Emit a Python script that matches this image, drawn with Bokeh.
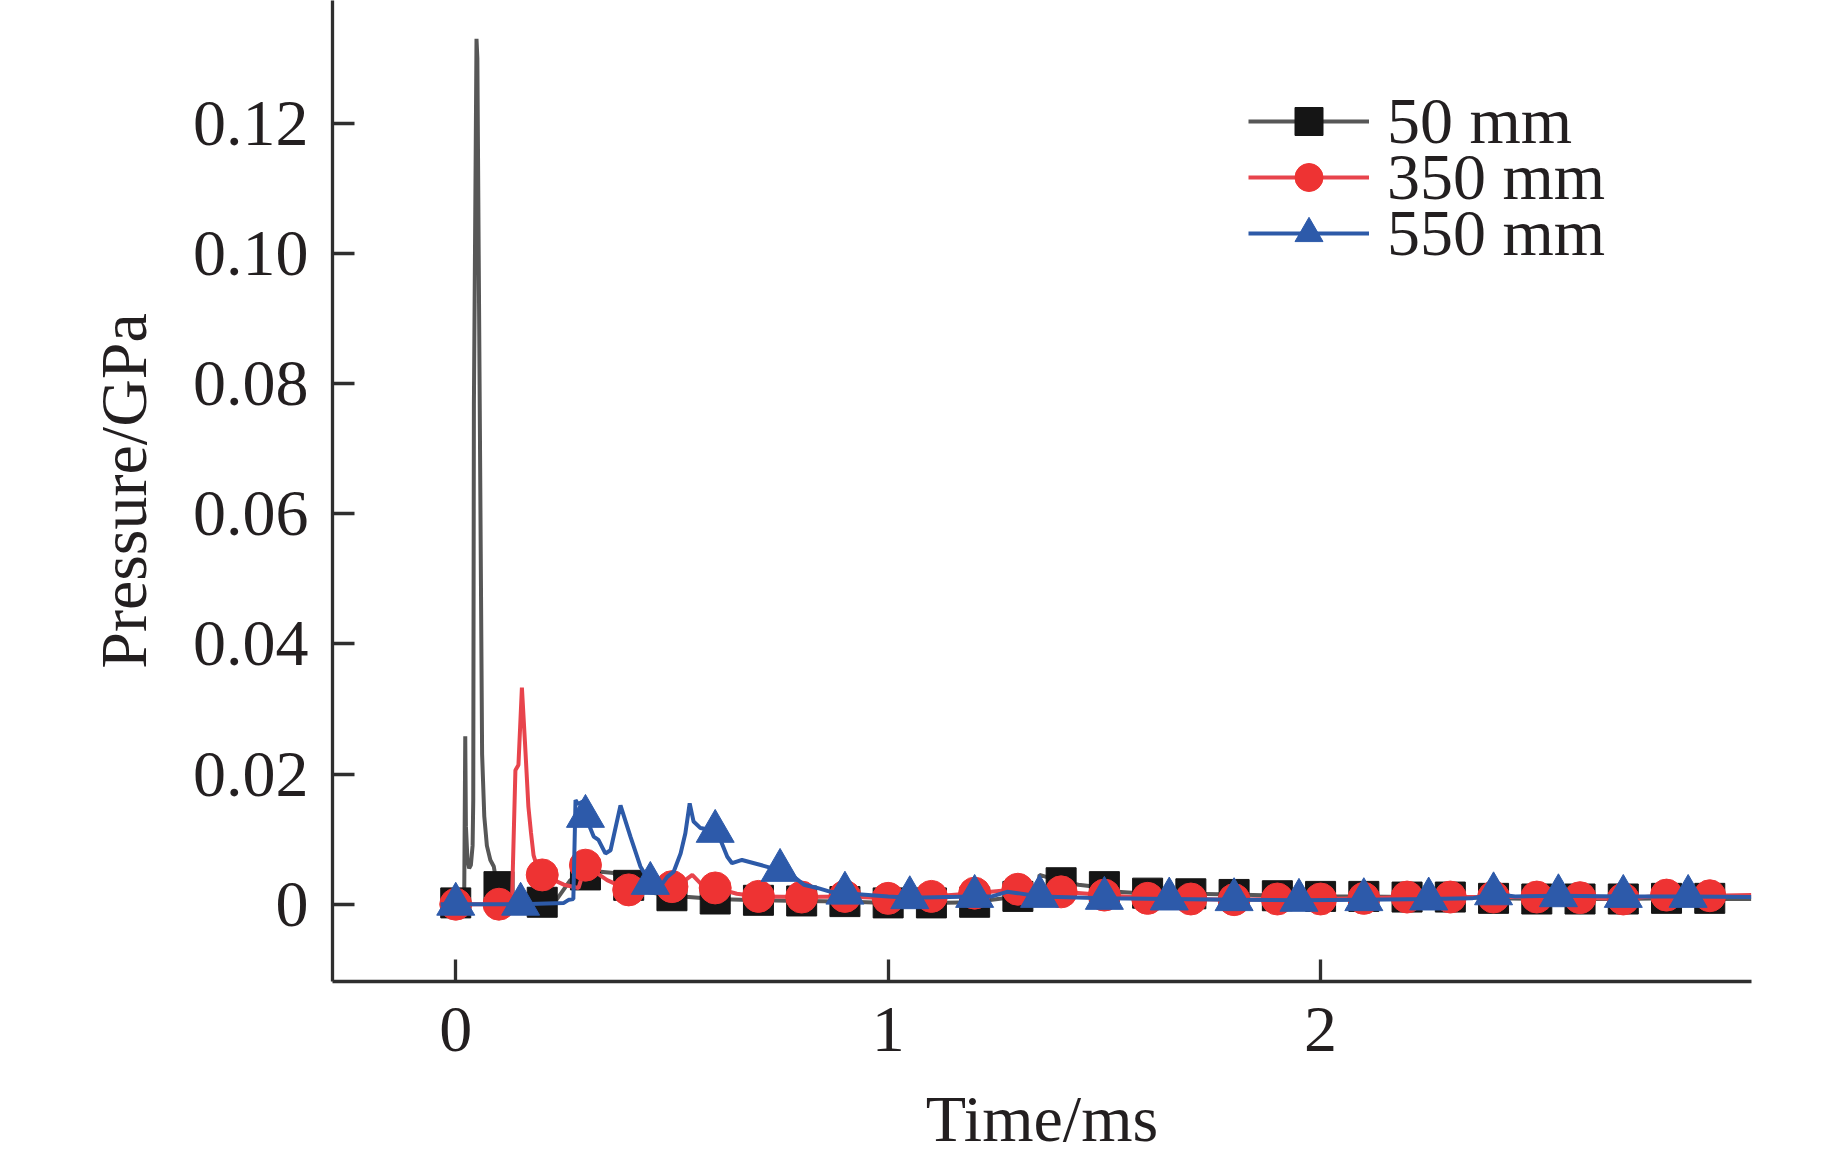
from bokeh.plotting import figure
from bokeh.models import Range1d, FixedTicker, CustomJSTickFormatter, Legend, LegendItem
from bokeh.embed import file_html
from bokeh.resources import INLINE

# ---- data: 50 mm (line) ----
t50 = [-0.035, 0.0, 0.0195, 0.022, 0.0235, 0.027, 0.031, 0.035, 0.039, 0.0405, 0.042, 0.048, 0.050,
       0.061, 0.066, 0.072, 0.080, 0.088, 0.092, 0.1, 0.115, 0.13, 0.2, 0.23, 0.265, 0.3, 0.335, 0.365,
       0.39, 0.44, 0.5, 0.6, 0.7, 0.8, 0.9, 1.0, 1.1, 1.2, 1.24, 1.3, 1.345, 1.35, 1.4, 1.44, 1.48, 1.53,
       1.6, 1.7, 1.8, 1.9, 2.0, 2.1, 2.2, 2.3, 2.4, 2.5, 2.6, 2.7, 2.8, 2.9, 2.996]
p50 = [0, 0, 0.0002, 0.0258, 0.012, 0.007, 0.0055, 0.006, 0.009, 0.016, 0.077, 0.133, 0.13,
       0.023, 0.0135, 0.009, 0.0068, 0.0058, 0.0042, 0.0027, 0.0012, 0.0005, 0.0003, 0.0004, 0.0037, 0.0045, 0.005, 0.0048,
       0.0032, 0.0019, 0.0013, 0.0008, 0.0006, 0.0005, 0.0004, 0.0002, 0.0002, 0.0003, 0.0007, 0.0012, 0.0013, 0.0045, 0.0035, 0.003, 0.0027, 0.0019,
       0.0016, 0.0016, 0.0015, 0.0013, 0.0012, 0.0012, 0.0011, 0.0011, 0.0009, 0.0008, 0.0008, 0.0008, 0.0009, 0.0008, 0.0008]
# 50 mm markers
m50_t = [0.0, 0.1, 0.2, 0.3, 0.4, 0.5, 0.6, 0.7, 0.8, 0.9, 1.0, 1.1, 1.2, 1.3, 1.4,
         1.5, 1.6, 1.7, 1.8, 1.9, 2.0, 2.1, 2.2, 2.3, 2.4, 2.5, 2.6, 2.7, 2.8, 2.9]
m50_p = [0.0002, 0.0027, 0.0003, 0.0045, 0.0029, 0.0013, 0.0008, 0.0006, 0.0005, 0.0004, 0.0002, 0.0002, 0.0003, 0.0012, 0.0033,
         0.0027, 0.0017, 0.0016, 0.0015, 0.0013, 0.0012, 0.0012, 0.0011, 0.0011, 0.0009, 0.0008, 0.0008, 0.0008, 0.0009, 0.0009]

# ---- data: 350 mm ----
t350 = [-0.035, 0.0, 0.1, 0.13, 0.138, 0.145, 0.153, 0.160, 0.168, 0.174, 0.18, 0.186, 0.2, 0.25, 0.284, 0.3,
        0.35, 0.4, 0.45, 0.5, 0.527, 0.547, 0.566, 0.6, 0.65, 0.7, 0.8, 0.9, 1.0, 1.1, 1.2, 1.3, 1.4, 1.5,
        1.6, 1.7, 1.8, 1.9, 2.0, 2.1, 2.2, 2.3, 2.4, 2.5, 2.6, 2.7, 2.8, 2.9, 2.996]
p350 = [0, 0, 0, 0.0002, 0.0206, 0.0214, 0.0333, 0.025, 0.015, 0.011, 0.0075, 0.0062, 0.0045, 0.003, 0.0025, 0.006,
        0.0037, 0.0022, 0.0022, 0.0027, 0.0035, 0.0045, 0.0032, 0.0025, 0.0016, 0.0012, 0.0011, 0.0012, 0.0009, 0.0012, 0.0017, 0.0023, 0.0019, 0.0014,
        0.0009, 0.0008, 0.0007, 0.0008, 0.0008, 0.0009, 0.0011, 0.0011, 0.0011, 0.0011, 0.001, 0.0008, 0.0014, 0.0013, 0.0014]
m350_t = [0.0, 0.1, 0.2, 0.3, 0.4, 0.5, 0.6, 0.7, 0.8, 0.9, 1.0, 1.1, 1.2, 1.3, 1.4,
          1.5, 1.6, 1.7, 1.8, 1.9, 2.0, 2.1, 2.2, 2.3, 2.4, 2.5, 2.6, 2.7, 2.8, 2.9]
m350_p = [0, 0, 0.0045, 0.006, 0.0022, 0.0027, 0.0025, 0.0012, 0.0011, 0.0012, 0.0009, 0.0012, 0.0017, 0.0023, 0.0019,
          0.0014, 0.0009, 0.0008, 0.0007, 0.0008, 0.0008, 0.0009, 0.0011, 0.0011, 0.0011, 0.0011, 0.001, 0.0008, 0.0014, 0.0013]

# ---- data: 550 mm ----
t550 = [-0.035, 0.0, 0.15, 0.25, 0.262, 0.272, 0.277, 0.283, 0.294, 0.30, 0.319, 0.33, 0.346, 0.358, 0.381,
        0.404, 0.427, 0.45, 0.473, 0.489, 0.504, 0.52, 0.531, 0.541, 0.55, 0.566, 0.589, 0.6, 0.612, 0.628,
        0.639, 0.662, 0.712, 0.75, 0.782, 0.805, 0.836, 0.867, 0.9, 1.0, 1.05, 1.2, 1.24, 1.275, 1.3, 1.35,
        1.5, 1.65, 1.8, 1.95, 2.1, 2.25, 2.35, 2.4, 2.45, 2.55, 2.7, 2.85, 2.996]
p550 = [0, 0, 0, 0.0002, 0.0007, 0.0008, 0.016, 0.0154, 0.0158, 0.0135, 0.0104, 0.0099, 0.0078, 0.0083, 0.0152,
        0.0104, 0.0058, 0.0032, 0.0027, 0.0042, 0.005, 0.0078, 0.0109, 0.0155, 0.0127, 0.0117, 0.0114, 0.0112, 0.0099, 0.0073,
        0.0063, 0.0068, 0.0059, 0.0052, 0.0042, 0.003, 0.0025, 0.0019, 0.0017, 0.0012, 0.001, 0.0012, 0.0012, 0.0019, 0.0017, 0.0012,
        0.0009, 0.0008, 0.0007, 0.0006, 0.0007, 0.0008, 0.0009, 0.0016, 0.0012, 0.0013, 0.0012, 0.0012, 0.0011]
m550_t = [0.0, 0.15, 0.3, 0.45, 0.6, 0.75, 0.9, 1.05, 1.2, 1.35, 1.5, 1.65, 1.8, 1.95, 2.1, 2.25, 2.4, 2.55, 2.7, 2.85]
m550_p = [0, 0, 0.0135, 0.0032, 0.0112, 0.0052, 0.0017, 0.001, 0.0012, 0.0012, 0.0009, 0.0008, 0.0007, 0.0006,
          0.0007, 0.0008, 0.0016, 0.0013, 0.0012, 0.0012]

series_labels = ["50 mm", "350 mm", "550 mm"]
y_ticks = [0, 0.02, 0.04, 0.06, 0.08, 0.10, 0.12]
x_ticks = [0, 1, 2]

FONT = "Liberation Serif"
TXT = "#231f20"
AX = "#2f2f2f"

p = figure(width=1827, height=1157, output_backend="svg", toolbar_location=None,
           x_range=Range1d(-0.285, 2.9965), y_range=Range1d(-0.01188, 0.1389),
           min_border_left=332, min_border_right=76, min_border_top=0, min_border_bottom=169)
p.outline_line_color = None
p.xgrid.visible = False
p.ygrid.visible = False
p.background_fill_color = "white"

l1 = p.line(t50, p50, line_color="#575757", line_width=4)
s1 = p.scatter(m50_t, m50_p, marker="square", size=30, fill_color="#151515", line_color="#151515")
l2 = p.line(t350, p350, line_color="#e8444c", line_width=4)
s2 = p.scatter(m350_t, m350_p, marker="circle", size=32, fill_color="#ee3333", line_color="#ee3333")
l3 = p.line(t550, p550, line_color="#2d5aa8", line_width=4)
s3 = p.scatter(m550_t, m550_p, marker="triangle", size=38, fill_color="#2d5aaa", line_color="#2d5aaa")

for ax in (p.xaxis[0], p.yaxis[0]):
    ax.axis_line_color = AX
    ax.axis_line_width = 3.3
    ax.major_tick_line_color = AX
    ax.major_tick_line_width = 3.3
    ax.major_tick_in = 22
    ax.major_tick_out = 0
    ax.minor_tick_line_color = None
    ax.major_label_text_font = FONT
    ax.major_label_text_font_size = "66px"
    ax.major_label_text_color = TXT
    ax.axis_label_text_font = FONT
    ax.axis_label_text_font_size = "66px"
    ax.axis_label_text_color = TXT
    ax.axis_label_text_font_style = "normal"

p.xaxis[0].ticker = FixedTicker(ticks=x_ticks)
p.xaxis[0].formatter = CustomJSTickFormatter(code="return tick.toFixed(0);")
p.xaxis[0].axis_label = "Time/ms"
p.xaxis[0].major_label_standoff = 26
p.xaxis[0].axis_label_standoff = 28

p.yaxis[0].ticker = FixedTicker(ticks=y_ticks)
p.yaxis[0].formatter = CustomJSTickFormatter(code="return tick == 0 ? '0' : tick.toFixed(2);")
p.yaxis[0].axis_label = "Pressure/GPa"
p.yaxis[0].major_label_standoff = 24
p.yaxis[0].axis_label_standoff = 30

# one legend per entry so the rows can sit as tightly as in the original
renderers = [(l1, s1), (l2, s2), (l3, s3)]
legend_y = [822, 766, 710]
for (lr, sr), lab, ly in zip(renderers, series_labels, legend_y):
    lg = Legend(items=[LegendItem(label=lab, renderers=[lr, sr])],
                location=(916, ly), orientation="vertical",
                glyph_width=121, glyph_height=70, label_standoff=18, spacing=0,
                padding=0, margin=0,
                label_text_font=FONT, label_text_font_size="66px", label_text_color=TXT,
                background_fill_alpha=0, border_line_color=None)
    p.add_layout(lg, "center")

open("out.html", "w").write(file_html(p, INLINE))
